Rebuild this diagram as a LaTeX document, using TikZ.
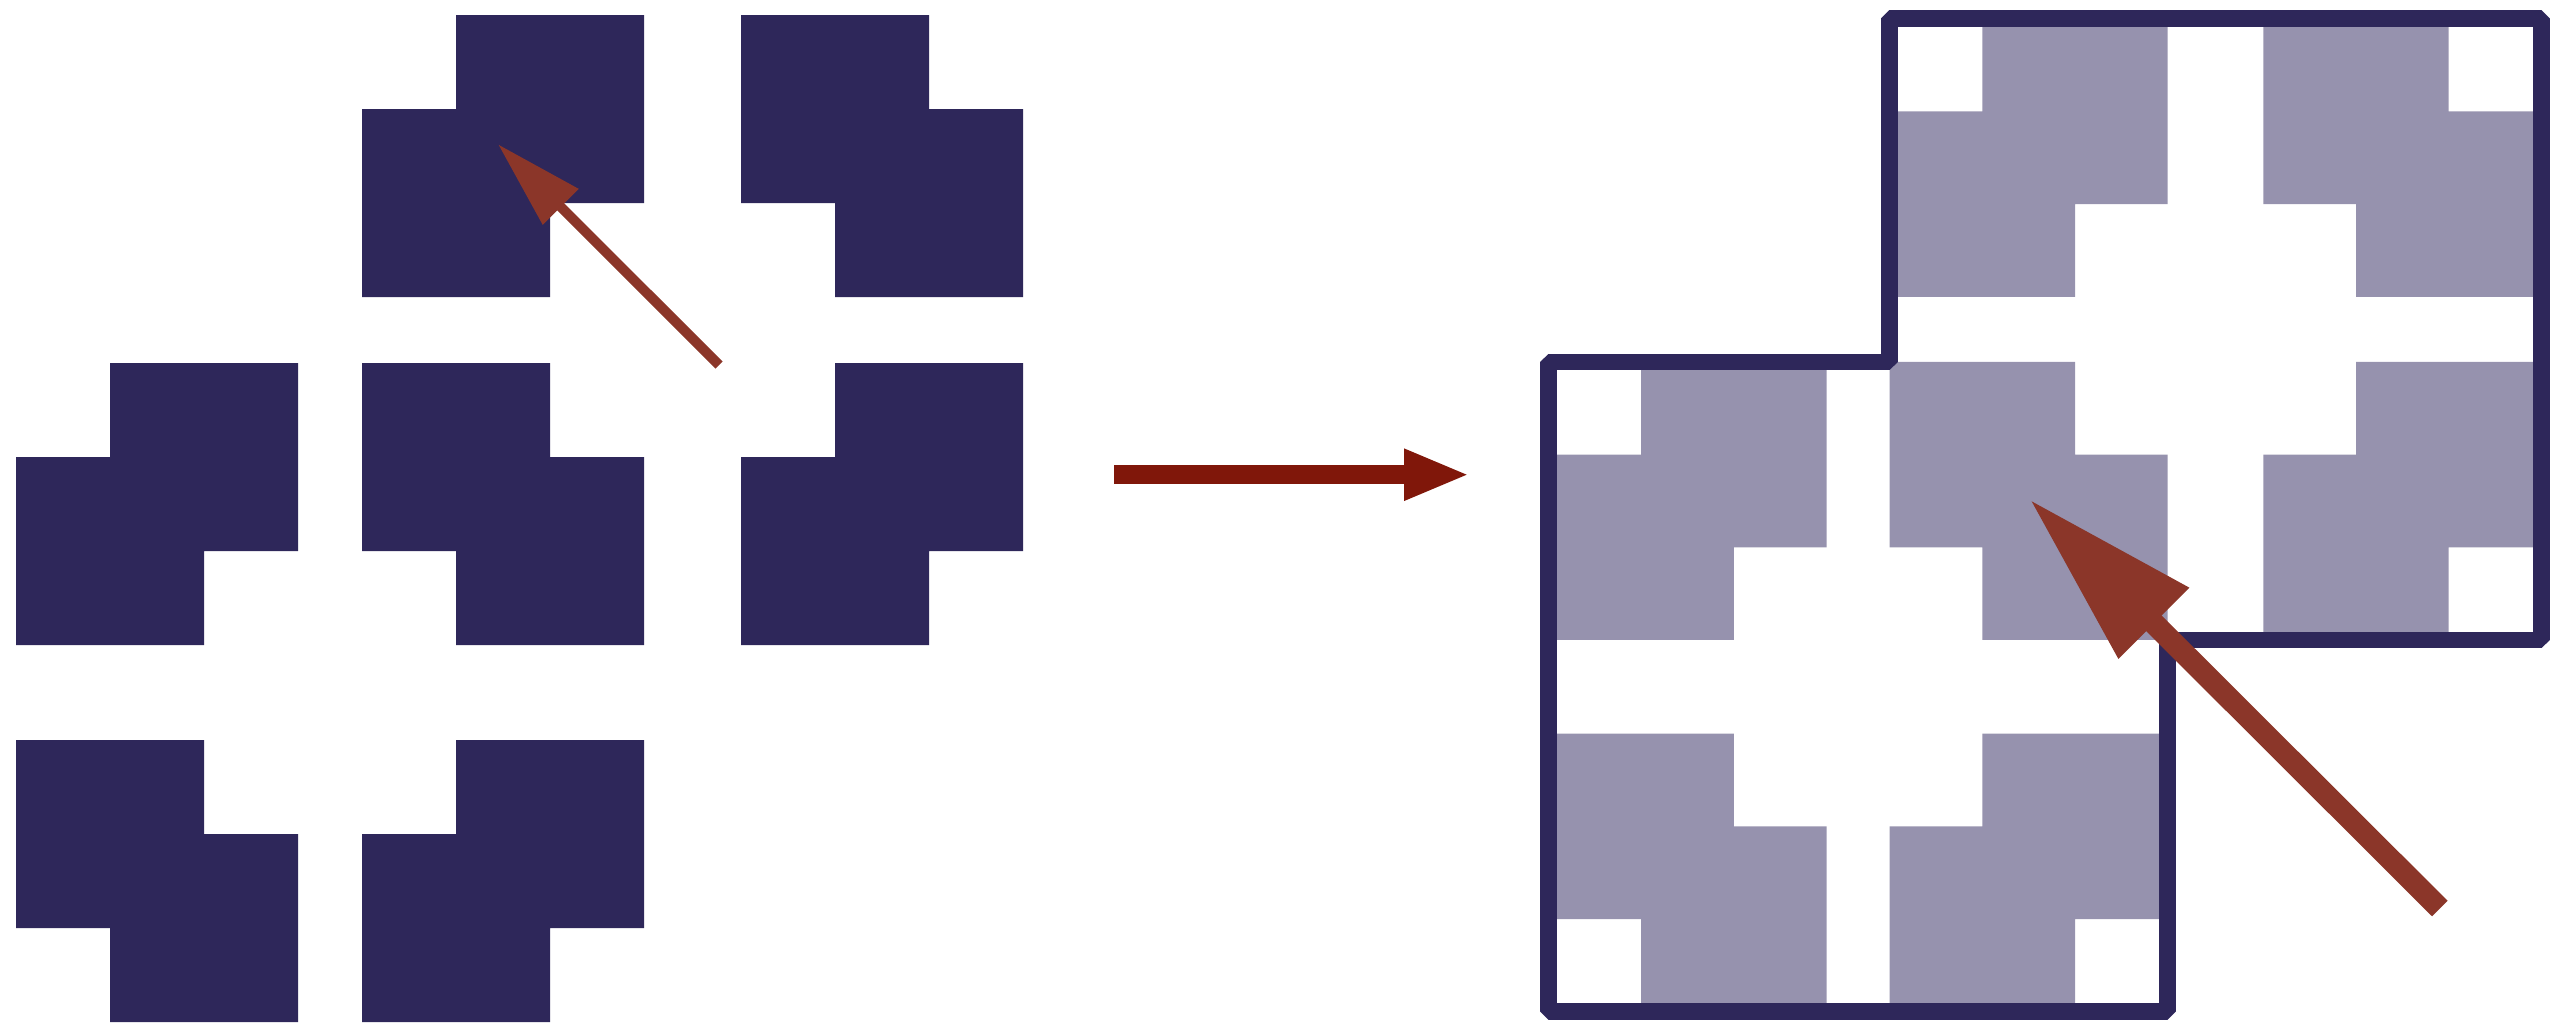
\documentclass[tikz,border=0pt]{standalone}
\usetikzlibrary{arrows.meta}
\definecolor{tilenavy}{RGB}{46,39,90}
\definecolor{tilegray}{RGB}{150,146,174}
\definecolor{pointerbrown}{RGB}{139,54,41}
\definecolor{mapred}{RGB}{128,23,10}
\newcommand\tileset[1]{%
  \foreach \px/\py in {362/15,16/363,741/363,362/740}
    \fill[#1] (\px+94,\py) -| (\px+282,\py+188) -| (\px+188,\py+282)
      -| (\px,\py+94) -| (\px+94,\py) -- cycle;
  \foreach \px/\py in {741/15,362/363,16/740}
    \fill[#1] (\px,\py) -| (\px+188,\py+94) -| (\px+282,\py+282)
      -| (\px+94,\py+188) -| (\px,\py) -- cycle;}
\begin{document}
\begin{tikzpicture}[x=.1mm,y=-.1mm,line join=bevel,
 frame/.style={draw=tilenavy,line width=1.67mm},
 pointer/.style={draw=pointerbrown,line width=1mm,-{Triangle[length=8.9mm,width=4.8mm]}},
 bigpointer/.style={draw=pointerbrown,line width=2.2mm,-{Triangle[length=17.6mm,width=9.4mm]}},
 maparrow/.style={draw=mapred,line width=1.87mm,-{Triangle[length=6.6mm,width=4.7mm]}}]
\useasboundingbox (0,0) rectangle (2552,1023);
\tileset{tilenavy}
\begin{scope}[shift={(1532.7,4)},scale=.986]
  \tileset{tilegray}
  \draw[frame] (16,363)--(362,363)--(362,15)--(1023,15)--(1023,645)
    --(644,645)--(644,1022)--(16,1022)--cycle;
\end{scope}
\coordinate (smallfrom) at (719,365);
\coordinate (smallto) at (497.8,144);
\coordinate (mapfrom) at (1114,474.7);
\coordinate (mapto) at (1470,474.7);
\coordinate (bigfrom) at (2439.8,908.5);
\coordinate (bigto) at (2029.3,499);
\draw[pointer] (smallfrom)--(smallto);
\draw[maparrow] (mapfrom)--(mapto);
\draw[bigpointer] (bigfrom)--(bigto);
\end{tikzpicture}
\end{document}
